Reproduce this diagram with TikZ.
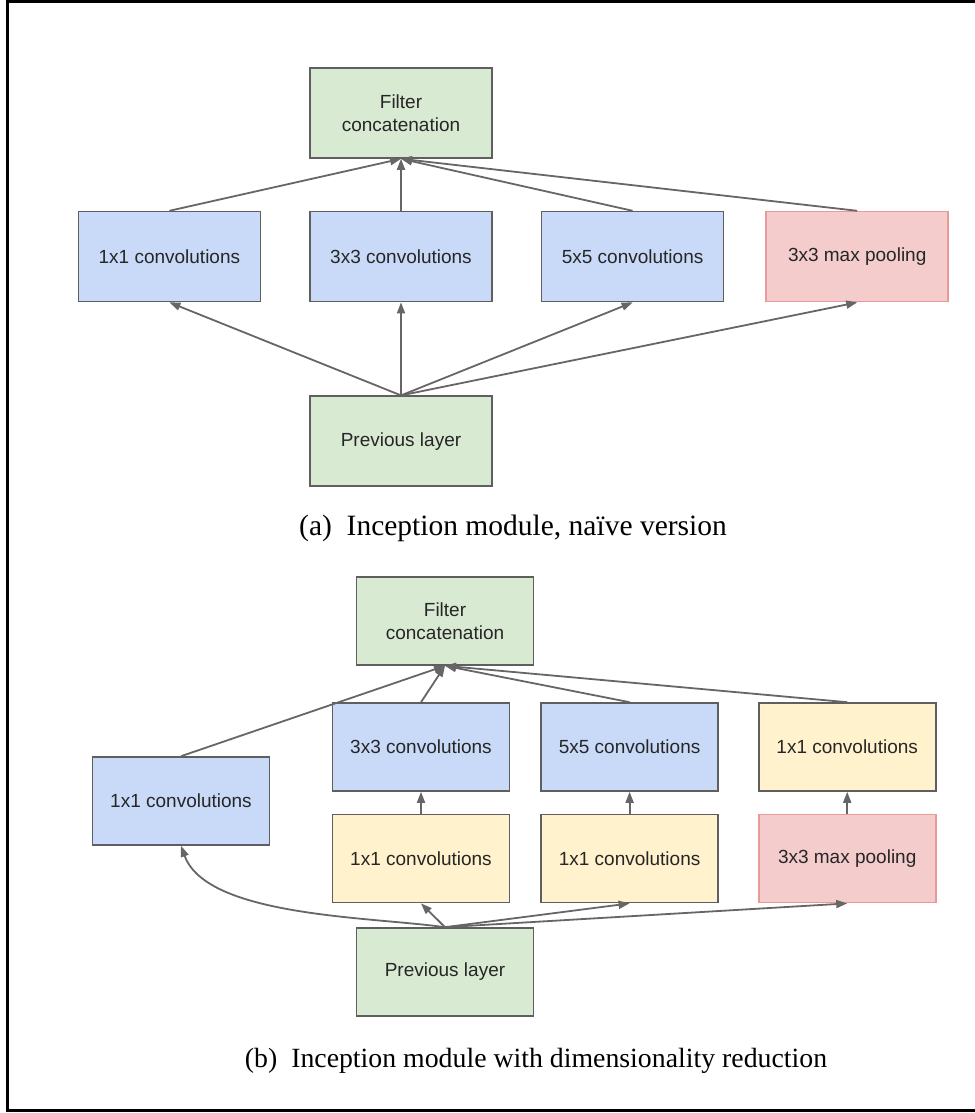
\documentclass[tikz,border=0pt]{standalone}
\usepackage{fontspec}
\setmainfont{Liberation Serif}
\setsansfont{Liberation Sans}
\usepackage{tikz}
\usetikzlibrary{arrows.meta,positioning}
\definecolor{ConvBlue}{HTML}{C9DAF8}
\definecolor{MergeGreen}{HTML}{D9EAD3}
\definecolor{ReduceYellow}{HTML}{FFF2CC}
\definecolor{PoolRed}{HTML}{F4CCCC}
\definecolor{PoolEdge}{HTML}{EA9999}
\definecolor{EdgeGray}{HTML}{5F5F5F}
\definecolor{ArrowGray}{HTML}{666666}

\begin{document}
\begin{tikzpicture}[x=1pt, y=-1pt, box/.style={draw=EdgeGray, line width=1.6pt, align=center, inner sep=0pt, minimum width=182pt, minimum height=90pt, text=black!85, font=\sffamily\fontsize{19}{23}\selectfont}, conv/.style={box, fill=ConvBlue}, merge/.style={box, fill=MergeGreen}, reduce/.style={box, fill=ReduceYellow}, pool/.style={box, fill=PoolRed, draw=PoolEdge}, caption/.style={font=\fontsize{29.5}{35}\selectfont}, arrow/.style={-{Triangle[length=11pt,width=8pt]}, color=ArrowGray, line width=1.8pt}]
\useasboundingbox (0,0) rectangle (974,1113);
\draw[line width=3pt] (990,2) -- (7,2) -- (7,1110) -- (990,1110);

\node[merge] (catA) at (401,113) {Filter\\concatenation};
\node[conv, below=52pt of catA] (c3A) {3x3 convolutions};
\node[conv, left=48pt of c3A] (c1A) {1x1 convolutions};
\node[conv, right=48pt of c3A] (c5A) {5x5 convolutions};
\node[pool, right=41pt of c5A] (poolA) {3x3 max pooling};
\node[merge, below=93pt of c3A] (prevA) {Previous layer};
\node[caption] (capA) at (513,528) {(a)\enspace Inception module, na\"ive version};
\foreach \n in {c1A,c3A,c5A,poolA}{\draw[arrow] (prevA.north)--(\n.south); \draw[arrow] (\n.north)--(catA.south);}

\begin{scope}[box/.append style={minimum width=177pt, minimum height=88pt}]
\node[merge] (catB) at (445,621) {Filter\\concatenation};
\node[conv] (c3B) at (421,747) {3x3 convolutions};
\node[conv, right=30pt of c3B] (c5B) {5x5 convolutions};
\node[reduce, right=39pt of c5B] (poolredB) {1x1 convolutions};
\node[reduce, below=22pt of c3B] (red3B) {1x1 convolutions};
\node[reduce, below=22pt of c5B] (red5B) {1x1 convolutions};
\node[pool, below=22pt of poolredB] (poolB) {3x3 max pooling};
\node[conv] (c1B) at (181,801) {1x1 convolutions};
\node[merge] (prevB) at (445,972) {Previous layer};
\end{scope}
\node[caption, font=\fontsize{27.8}{33}\selectfont] (capB) at (536,1061) {(b)\enspace Inception module with dimensionality reduction};
\foreach \n in {c1B,c3B,c5B,poolredB}{\draw[arrow] (\n.north)--(catB.south);}
\draw[arrow] (red3B)--(c3B); \draw[arrow] (red5B)--(c5B); \draw[arrow] (poolB)--(poolredB);
\foreach \n in {red3B,red5B,poolB}{\draw[arrow] (prevB.north)--(\n.south);}
\draw[arrow] (prevB.north) to[out=172, in=-70, looseness=0.7] (c1B.south);
\end{tikzpicture}
\end{document}
